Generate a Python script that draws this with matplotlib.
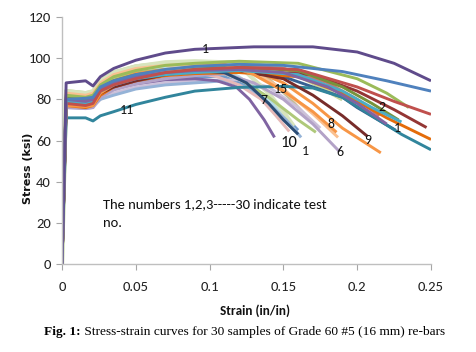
import matplotlib
matplotlib.use("Agg")
import matplotlib.pyplot as plt
from matplotlib import font_manager as fm

# ---------------- data (strain in/in, stress ksi) ----------------
t01_strain = [0, 0.0028, 0.016, 0.021, 0.026, 0.035, 0.05, 0.07, 0.09, 0.13, 0.17, 0.2, 0.225, 0.25]
t01_stress = [0, 88, 89, 86.5, 91, 95, 99, 102.5, 104.3, 105.5, 105.5, 103, 97.5, 89]
t02_strain = [0, 0.0028, 0.016, 0.021, 0.026, 0.035, 0.05, 0.07, 0.09, 0.12, 0.15, 0.19, 0.22, 0.25]
t02_stress = [0, 80, 80.5, 81, 86, 89, 92, 94.5, 96, 97, 96.5, 93.5, 89, 84]
t03_strain = [0, 0.0028, 0.016, 0.021, 0.026, 0.035, 0.05, 0.07, 0.09, 0.12, 0.16, 0.2, 0.225, 0.25]
t03_stress = [0, 78, 77, 78, 84, 87, 90, 93, 94.5, 95.5, 94.5, 86, 79, 72.7]
t04_strain = [0, 0.0028, 0.016, 0.021, 0.026, 0.035, 0.05, 0.07, 0.09, 0.12, 0.16, 0.2, 0.22, 0.235]
t04_stress = [0, 82, 81, 82, 87, 91, 94, 96.5, 97.5, 98.5, 97.5, 90, 83, 76]
t05_strain = [0, 0.0028, 0.016, 0.021, 0.026, 0.035, 0.05, 0.07, 0.09, 0.12, 0.15, 0.18, 0.2, 0.22]
t05_stress = [0, 80, 79, 80, 85, 88, 91, 93, 94, 94.5, 93, 86, 78, 68]
t06_strain = [0, 0.0028, 0.016, 0.021, 0.026, 0.035, 0.05, 0.07, 0.09, 0.12, 0.16, 0.19, 0.21, 0.23]
t06_stress = [0, 79, 78, 79, 84, 87, 90, 92, 93, 94, 92, 84, 76, 69]
t07_strain = [0, 0.0028, 0.016, 0.021, 0.026, 0.035, 0.05, 0.07, 0.09, 0.11, 0.13, 0.15, 0.17, 0.186]
t07_stress = [0, 77, 76.5, 77, 83, 87, 91, 94, 96, 97, 92, 84, 74, 64]
t08_strain = [0, 0.0028, 0.016, 0.021, 0.026, 0.035, 0.05, 0.07, 0.09, 0.11, 0.125, 0.14, 0.15, 0.16]
t08_stress = [0, 79, 78, 79, 84, 87, 90, 92.5, 94, 93, 88, 78, 70, 63]
t09_strain = [0, 0.0028, 0.016, 0.021, 0.026, 0.035, 0.05, 0.07, 0.09, 0.12, 0.15, 0.17, 0.19, 0.207]
t09_stress = [0, 78, 77, 78, 83, 86, 89, 92, 93.5, 94, 90, 82, 72, 62]
t10_strain = [0, 0.0028, 0.016, 0.021, 0.026, 0.035, 0.05, 0.07, 0.09, 0.12, 0.16, 0.19, 0.21, 0.228]
t10_stress = [0, 81, 80, 81, 86, 89, 92, 94, 95, 95.5, 94, 86, 78, 70]
t11_strain = [0, 0.0028, 0.016, 0.021, 0.026, 0.035, 0.05, 0.07, 0.09, 0.12, 0.15, 0.17, 0.19, 0.21, 0.23, 0.25]
t11_stress = [0, 71, 71, 69.5, 72, 74, 77.5, 81, 84, 85.8, 86.3, 85.5, 81, 72, 63, 55.5]
t12_strain = [0, 0.0028, 0.016, 0.021, 0.026, 0.035, 0.05, 0.07, 0.09, 0.12, 0.16, 0.19, 0.22, 0.25]
t12_stress = [0, 77, 76, 77, 82, 86, 89, 91.5, 92.5, 93, 91, 83, 71, 60.5]
t13_strain = [0, 0.0028, 0.016, 0.021, 0.026, 0.035, 0.05, 0.07, 0.09, 0.12, 0.17, 0.2, 0.225, 0.247]
t13_stress = [0, 78, 77, 78, 83, 86.5, 89.5, 92, 93, 94, 92, 84, 75, 66.3]
t14_strain = [0, 0.0028, 0.016, 0.021, 0.026, 0.035, 0.05, 0.07, 0.09, 0.12, 0.15, 0.17, 0.19, 0.2, 0.226]
t14_stress = [0, 80, 79, 80, 85, 88, 91, 93, 94, 93.5, 91, 86, 81, 76, 65]
t15_strain = [0, 0.0028, 0.016, 0.021, 0.026, 0.035, 0.05, 0.07, 0.09, 0.11, 0.13, 0.15, 0.17, 0.188]
t15_stress = [0, 76, 75.5, 76, 81, 84.5, 87.5, 90, 91.5, 92.5, 88, 80, 68, 54.6]
t16_strain = [0, 0.0028, 0.016, 0.021, 0.026, 0.035, 0.05, 0.07, 0.09, 0.11, 0.13, 0.15, 0.17, 0.187]
t16_stress = [0, 83, 82, 83, 88, 92, 95, 96.5, 97, 97, 93, 85, 73, 61.5]
t17_strain = [0, 0.0028, 0.016, 0.021, 0.026, 0.035, 0.05, 0.07, 0.09, 0.11, 0.13, 0.15, 0.17, 0.19, 0.216]
t17_stress = [0, 80, 79, 80, 85, 89, 92.5, 94.5, 95.5, 96, 94, 88, 78, 66, 54]
t18_strain = [0, 0.0028, 0.016, 0.021, 0.026, 0.035, 0.05, 0.07, 0.09, 0.1, 0.12, 0.14, 0.16, 0.172]
t18_stress = [0, 81, 80, 81, 86, 90, 93, 94.5, 95, 95, 90, 81, 70, 64]
t19_strain = [0, 0.0028, 0.016, 0.021, 0.026, 0.035, 0.05, 0.07, 0.09, 0.105, 0.118, 0.127, 0.137, 0.144]
t19_stress = [0, 80, 79, 79.5, 83, 85, 87.5, 89.5, 90, 89, 86, 80, 70, 61.5]
t20_strain = [0, 0.0028, 0.016, 0.021, 0.026, 0.035, 0.05, 0.07, 0.09, 0.105, 0.12, 0.135, 0.145, 0.154]
t20_stress = [0, 79, 78, 79, 84, 88, 91, 93, 93, 91, 87, 80, 72, 64.4]
t21_strain = [0, 0.0028, 0.016, 0.021, 0.026, 0.035, 0.05, 0.07, 0.09, 0.11, 0.125, 0.14, 0.152, 0.162]
t21_stress = [0, 77, 76.5, 77, 80, 82, 85, 87, 88, 89, 86, 78, 70, 61.5]
t22_strain = [0, 0.0028, 0.016, 0.021, 0.026, 0.035, 0.05, 0.07, 0.09, 0.11, 0.125, 0.14, 0.15, 0.157]
t22_stress = [0, 84, 83, 84, 89, 93, 96, 98, 98.5, 98, 93, 83, 74, 67]
t23_strain = [0, 0.0028, 0.016, 0.021, 0.026, 0.035, 0.05, 0.07, 0.09, 0.105, 0.12, 0.135, 0.148, 0.158]
t23_stress = [0, 82, 81, 82, 87, 90.5, 93.5, 95.5, 96, 95, 91, 83, 74, 65]
t24_strain = [0, 0.0028, 0.016, 0.021, 0.026, 0.035, 0.05, 0.07, 0.09, 0.11, 0.13, 0.15, 0.165, 0.178]
t24_stress = [0, 83, 82, 82.5, 88, 92, 95, 97, 97.5, 97, 92, 84, 76, 68]
t25_strain = [0, 0.0028, 0.016, 0.021, 0.026, 0.035, 0.05, 0.07, 0.09, 0.12, 0.14, 0.16, 0.175]
t25_stress = [0, 76, 75.5, 76, 80, 83, 86, 88, 89, 89.5, 86, 76, 66]
t26_strain = [0, 0.0028, 0.016, 0.021, 0.026, 0.035, 0.05, 0.07, 0.09, 0.12, 0.14, 0.155, 0.168]
t26_stress = [0, 82, 81, 82, 87, 91, 94, 96, 97, 96, 90, 80, 70]
t27_strain = [0, 0.0028, 0.016, 0.021, 0.026, 0.035, 0.05, 0.07, 0.09, 0.11, 0.13, 0.145, 0.16]
t27_stress = [0, 78, 77, 78, 82, 85, 88, 90, 91, 91, 85, 76, 65]
t28_strain = [0, 0.0028, 0.016, 0.021, 0.026, 0.035, 0.05, 0.07, 0.09, 0.12, 0.15, 0.18, 0.2, 0.215]
t28_stress = [0, 81, 80, 81, 86, 90, 93, 95, 96, 96.5, 95, 88, 80, 72]
t29_strain = [0, 0.0028, 0.016, 0.021, 0.026, 0.035, 0.05, 0.07, 0.09, 0.11, 0.125, 0.14, 0.152]
t29_stress = [0, 80, 79, 80, 84, 87.5, 90.5, 92, 93, 93, 89, 80, 70]
t30_strain = [0, 0.0028, 0.016, 0.021, 0.026, 0.035, 0.05, 0.07, 0.09, 0.12, 0.15, 0.17, 0.19]
t30_stress = [0, 84, 83, 83.5, 89, 93, 96, 97.5, 98, 98, 95, 88, 80]

sample_strains = [t30_strain, t29_strain, t28_strain, t27_strain, t26_strain, t25_strain,
                  t24_strain, t23_strain, t22_strain, t21_strain, t20_strain, t19_strain,
                  t18_strain, t17_strain, t16_strain, t15_strain, t14_strain, t13_strain,
                  t12_strain, t11_strain, t10_strain, t09_strain, t08_strain, t07_strain,
                  t06_strain, t05_strain, t04_strain, t03_strain, t02_strain, t01_strain]
sample_stresses = [t30_stress, t29_stress, t28_stress, t27_stress, t26_stress, t25_stress,
                   t24_stress, t23_stress, t22_stress, t21_stress, t20_stress, t19_stress,
                   t18_stress, t17_stress, t16_stress, t15_stress, t14_stress, t13_stress,
                   t12_stress, t11_stress, t10_stress, t09_stress, t08_stress, t07_stress,
                   t06_stress, t05_stress, t04_stress, t03_stress, t02_stress, t01_stress]
sample_colors = ["#C3D69B", "#93CDDD", "#CD7371", "#729ACA", "#C4BD97", "#CCC1DA",
                 "#FCD5B5", "#B7DEE8", "#D7E4BD", "#95B3D7", "#E6B9B8", "#8064A2",
                 "#AFC97A", "#F79646", "#FAC090", "#B3A2C7", "#376092", "#943634",
                 "#E46C0A", "#31859C", "#77933C", "#772C2A", "#2C4D75", "#F79646",
                 "#4BACC6", "#8064A2", "#9BBB59", "#C0504D", "#4F81BD", "#5F4B8B"]

label_texts = ["1", "11", "15", "7", "10", "1", "8", "6", "9", "2", "1"]
label_strain = [0.097, 0.044, 0.148, 0.137, 0.154, 0.165, 0.182, 0.188, 0.207, 0.217, 0.227]
label_stress = [104.5, 74.6, 84.9, 79.5, 59.0, 55.1, 67.8, 54.6, 60.0, 76.1, 65.9]

x_ticks = [0, 0.05, 0.1, 0.15, 0.2, 0.25]
x_tick_labels = ["0", "0.05", "0.1", "0.15", "0.2", "0.25"]
y_ticks = [0, 20, 40, 60, 80, 100, 120]

# ---------------- fonts ----------------
available = {f.name for f in fm.fontManager.ttflist}
if "Carlito" in available:
    def narrow(size, weight="normal"):
        return fm.FontProperties(family="Carlito", size=size, weight=weight)
    scale = 1.0
else:
    def narrow(size, weight="normal"):
        return fm.FontProperties(family="DejaVu Sans", stretch="condensed", size=size, weight=weight)
    scale = 0.88

# ---------------- figure ----------------
fig = plt.figure(figsize=(4.77, 3.52), dpi=100)
ax = fig.add_axes([62 / 477, 1 - 264 / 352, (431 - 62) / 477, (264 - 17) / 352])

for xs, ys, c in zip(sample_strains, sample_stresses, sample_colors):
    lw = 3.0 if c in ("#D7E4BD", "#C3D69B") else 2.1
    ax.plot(xs, ys, color=c, lw=lw, solid_joinstyle="round", solid_capstyle="butt")

for t, xv, yv in zip(label_texts, label_strain, label_stress):
    fs = 12 if t == "10" else 10
    ax.text(xv, yv, t, fontproperties=narrow(fs * scale), ha="center", va="center", color="#111111")

ax.text(0.0277, 31.8, "The numbers 1,2,3-----30 indicate test\nno.",
        fontproperties=narrow(10.5 * scale), ha="left", va="top", linespacing=1.65, color="#111111")

ax.set_xlim(0, 0.25)
ax.set_ylim(0, 120)
ax.set_xticks(x_ticks)
ax.set_xticklabels(x_tick_labels)
ax.set_yticks(y_ticks)
for lab in ax.get_xticklabels() + ax.get_yticklabels():
    lab.set_fontproperties(narrow(10.5 * scale))
    lab.set_color("#222222")
ax.tick_params(axis="both", direction="out", length=4, width=0.8, color="#A6A6A6")
ax.tick_params(axis="x", pad=8)
ax.tick_params(axis="y", pad=4)
for s in ("top", "right"):
    ax.spines[s].set_visible(False)
for s in ("left", "bottom"):
    ax.spines[s].set_color("#BFBFBF")
    ax.spines[s].set_linewidth(1.0)

fig.text(255 / 477, 1 - 311 / 352, "Strain (in/in)", ha="center", va="center",
         fontproperties=narrow(9.5 * scale, "bold"), color="#111111")
fig.text(28 / 477, 1 - 168 / 352, "Stress (ksi)", ha="center", va="center", rotation=90,
         family="DejaVu Sans", fontweight="bold", fontsize=8, color="#111111")

t1 = fig.text(44 / 477, 1 - 332 / 352, "Fig. 1:", ha="left", va="center",
              family="Liberation Serif", fontweight="bold", fontsize=9.6)
ax.annotate(" Stress-strain curves for 30 samples of Grade 60 #5 (16 mm) re-bars",
            xy=(1, 0.5), xycoords=t1, ha="left", va="center",
            family="Liberation Serif", fontsize=9.6, annotation_clip=False)

fig.savefig("out.png", dpi=100)
